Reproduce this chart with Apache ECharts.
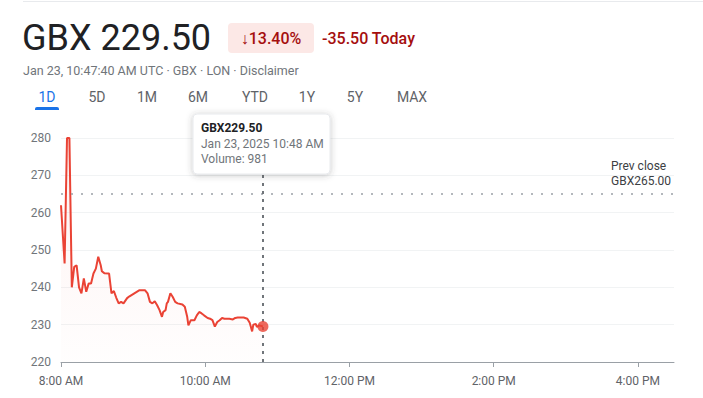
<!DOCTYPE html>
<html>
<head>
<meta charset="utf-8">
<script src="https://cdn.jsdelivr.net/npm/echarts@6/dist/echarts.min.js"></script>
<style>
  html, body { margin: 0; padding: 0; background: #fff; }
  #mychart { width: 703px; height: 398px; }
</style>
</head>
<body>
<div id="mychart"></div>
<script>
// 1D intraday prices (GBX)
var times = ['08:00','08:03','08:05','08:07','08:09','08:11','08:13','08:15','08:17','08:19',
  '08:21','08:23','08:25','08:27','08:29','08:31','08:33','08:34','08:36','08:40',
  '08:42','08:44','08:46','08:48','08:50','08:52','08:55','08:57','08:59','09:03',
  '09:05','09:10','09:12','09:14','09:16','09:18','09:20','09:22','09:24','09:25',
  '09:27','09:28','09:29','09:31','09:33','09:35','09:37','09:41','09:43','09:45',
  '09:46','09:48','09:51','09:53','09:55','09:57','09:59','10:02','10:04','10:06',
  '10:08','10:10','10:12','10:14','10:16','10:20','10:23','10:25','10:27','10:32',
  '10:35','10:37','10:38','10:39','10:40','10:42','10:43','10:45','10:48'];
var prices = [262, 246.4, 280, 280, 240, 245.5, 245.9, 240, 238.4, 242.4,
  238.8, 241, 241, 243.7, 245, 248.2, 246, 244.3, 243.8, 243.7,
  238.4, 239, 237.2, 235.7, 236.1, 235.7, 237.1, 237.6, 238, 238.8,
  239.2, 239.2, 238.4, 236.1, 235.7, 236.3, 235.2, 233.9, 232.1, 233.4,
  233.9, 235.7, 236.1, 238.4, 237.4, 236.1, 235.7, 235.4, 234.8, 232.1,
  229.8, 231.2, 231.2, 232.5, 233.4, 233, 232.5, 231.8, 231.6, 231.2,
  229.5, 230.7, 231.2, 231.8, 231.6, 231.6, 231.4, 231.8, 231.9, 231.9,
  231.6, 230.5, 229.4, 228.2, 230, 230.2, 229.4, 229.8, 229.5];
var xTicks = ['08:00', '10:00', '12:00', '14:00', '16:00'];
var yTicks = [220, 230, 240, 250, 260, 270, 280];
var prevClose = 265;
var tabs = ['1D', '5D', '1M', '6M', 'YTD', '1Y', '5Y', 'MAX'];

function toMin(t) {
  var p = t.split(':');
  return (+p[0] - 8) * 60 + (+p[1]);
}
function clock(m) {
  var h = 8 + Math.floor(m / 60), mm = m % 60;
  var hh = h > 12 ? h - 12 : h;
  return hh + ':' + (mm < 10 ? '0' : '') + mm + (h < 12 ? ' AM' : ' PM');
}

var lineData = times.map(function (t, i) { return [toMin(t), prices[i]]; });
var last = lineData[lineData.length - 1];
var FONT = 'Roboto, "Noto Sans", sans-serif';

var tabX = [47, 97, 147, 198, 255, 307, 355, 412];
var tabGraphics = tabs.map(function (t, i) {
  return {
    type: 'text', x: tabX[i], y: 97,
    style: { text: t, fill: i === 0 ? '#1a73e8' : '#5f6368', font: '14px ' + FONT, align: 'center', verticalAlign: 'middle' }
  };
});

var mychart = echarts.init(document.getElementById('mychart'), null, { renderer: 'svg' });
mychart.setOption({
  animation: false,
  backgroundColor: '#fff',
  textStyle: { fontFamily: FONT },
  grid: { left: 61, right: 29, top: 138, bottom: 36 },
  xAxis: {
    type: 'value',
    min: 0,
    max: 510,
    interval: 120,
    axisLine: { lineStyle: { color: '#9aa0a6', width: 1 } },
    axisTick: { show: true, length: 5, lineStyle: { color: '#9aa0a6' }, customValues: xTicks.map(toMin) },
    axisLabel: {
      customValues: xTicks.map(toMin),
      formatter: function (v) { return clock(v); },
      color: '#5f6368', fontSize: 12, margin: 13
    },
    splitLine: { show: false }
  },
  yAxis: {
    type: 'value',
    min: yTicks[0],
    max: yTicks[yTicks.length - 1],
    interval: 10,
    axisLine: { show: false },
    axisTick: { show: false },
    axisLabel: { color: '#70757a', fontSize: 12, margin: 10 },
    splitLine: { lineStyle: { color: '#f1f3f4' } }
  },
  series: [
    {
      type: 'line',
      data: lineData,
      showSymbol: false,
      lineStyle: { color: '#ea4335', width: 2 },
      areaStyle: {
        color: new echarts.graphic.LinearGradient(0, 0, 0, 1, [
          { offset: 0, color: 'rgba(234,67,53,0.10)' },
          { offset: 1, color: 'rgba(234,67,53,0.01)' }
        ])
      },
      markLine: {
        silent: true,
        symbol: 'none',
        label: { show: false },
        data: [
          { yAxis: prevClose, lineStyle: { color: '#9aa0a6', type: [2, 8], width: 1.5 } },
          { xAxis: last[0], lineStyle: { color: '#70757a', type: [3, 5], width: 2 } }
        ]
      },
      z: 3
    },
    {
      type: 'scatter',
      data: [last],
      symbolSize: 11,
      itemStyle: { color: '#ea4335' },
      z: 5
    }
  ],
  graphic: [
    { type: 'line', shape: { x1: 23, y1: 1.5, x2: 703, y2: 1.5 }, style: { stroke: '#e8eaed', lineWidth: 1 } },
    { type: 'text', x: 22, y: 38, style: { text: 'GBX 229.50', fill: '#202124', font: '36px ' + FONT, verticalAlign: 'middle' } },
    { type: 'rect', shape: { x: 228, y: 23, width: 86, height: 30, r: 4 }, style: { fill: '#fce8e6' } },
    { type: 'text', x: 271, y: 38, style: { text: '↓13.40%', fill: '#a50e0e', font: '500 16px ' + FONT, align: 'center', verticalAlign: 'middle' } },
    { type: 'text', x: 322, y: 38, style: { text: '-35.50 Today', fill: '#a50e0e', font: '500 16px ' + FONT, verticalAlign: 'middle' } },
    { type: 'text', x: 23, y: 70, style: { text: 'Jan 23, 10:47:40 AM UTC · GBX · LON · Disclaimer', fill: '#70757a', font: '12.5px ' + FONT, verticalAlign: 'middle' } }
  ].concat(tabGraphics).concat([
    { type: 'rect', shape: { x: 35, y: 107, width: 24, height: 3, r: [2, 2, 0, 0] }, style: { fill: '#1a73e8' } },
    // prev close label
    { type: 'text', x: 611, y: 166, style: { text: 'Prev close', fill: '#3c4043', font: '12px ' + FONT, verticalAlign: 'middle' } },
    { type: 'text', x: 611, y: 181, style: { text: 'GBX265.00', fill: '#3c4043', font: '12px ' + FONT, verticalAlign: 'middle' } },
    // tooltip
    {
      type: 'rect', z: 100,
      shape: { x: 193, y: 114, width: 137, height: 60, r: 4 },
      style: { fill: '#fff', stroke: '#e8eaed', lineWidth: 1, shadowBlur: 6, shadowOffsetY: 1, shadowColor: 'rgba(60,64,67,0.3)' }
    },
    { type: 'text', z: 101, x: 201, y: 128, style: { text: 'GBX229.50', fill: '#202124', font: 'bold 12px ' + FONT, verticalAlign: 'middle' } },
    { type: 'text', z: 101, x: 201, y: 144, style: { text: 'Jan 23, 2025 10:48 AM', fill: '#70757a', font: '12px ' + FONT, verticalAlign: 'middle' } },
    { type: 'text', z: 101, x: 201, y: 159, style: { text: 'Volume: 981', fill: '#70757a', font: '12px ' + FONT, verticalAlign: 'middle' } }
  ])
});
</script>
</body>
</html>
